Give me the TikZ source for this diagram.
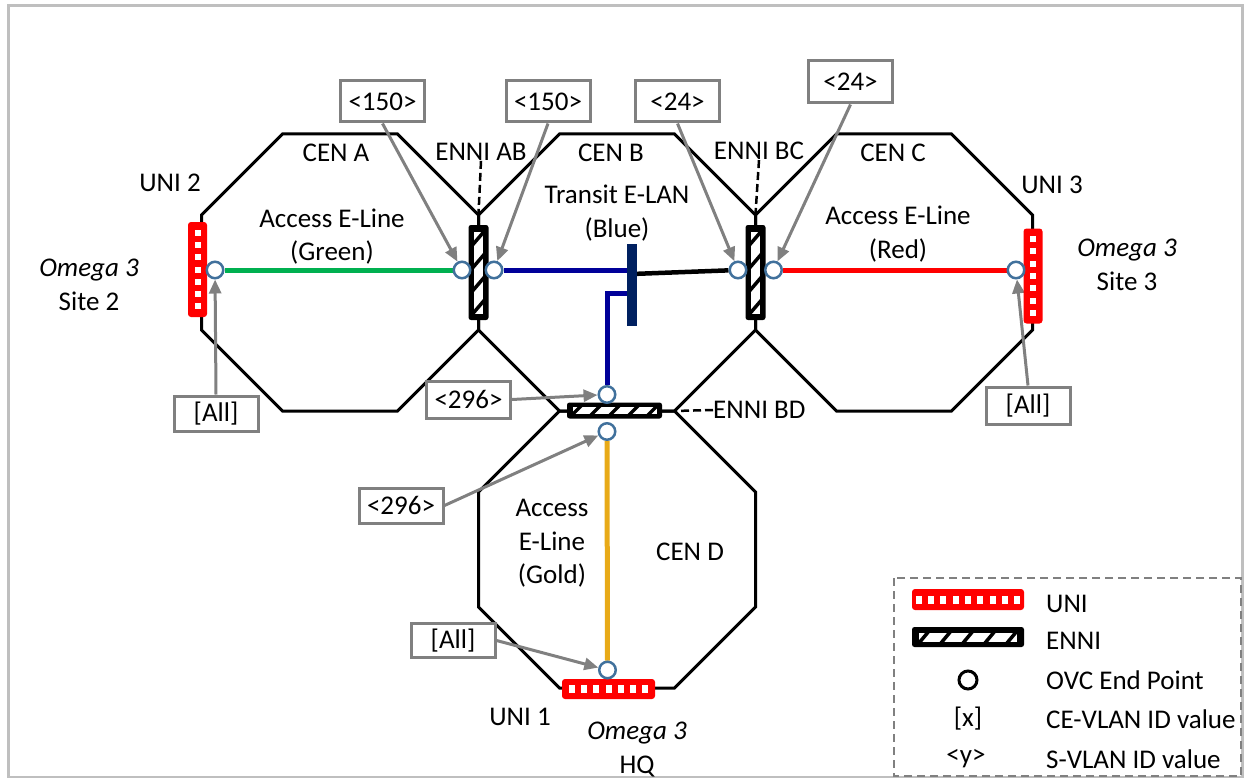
\documentclass[tikz,border=0pt]{standalone}
\usepackage{fontspec}
\setmainfont{Carlito}
\usetikzlibrary{arrows.meta,calc}
\pgfdeclarelayer{bg}
\pgfdeclarelayer{mid}
\pgfsetlayers{bg,mid,main}
\definecolor{unired}{RGB}{255,0,0}
\definecolor{evcgreen}{RGB}{0,176,80}
\definecolor{evcblue}{RGB}{0,0,153}
\definecolor{lannavy}{RGB}{0,32,96}
\definecolor{evcgold}{RGB}{232,170,24}
\definecolor{epblue}{RGB}{65,113,156}
\definecolor{tagray}{RGB}{128,128,128}
\definecolor{framegray}{RGB}{191,191,191}
\tikzset{
  octagon/.pic={\draw[line width=3pt, line join=miter] (-57.4,-138.5) -- (57.4,-138.5) -- (138.5,-57.4) -- (138.5,57.4) -- (57.4,138.5) -- (-57.4,138.5) -- (-138.5,57.4) -- (-138.5,-57.4) -- cycle;},
}
\begin{document}
\begin{tikzpicture}[x=1pt,y=-1pt,
  every node/.style={font=\fontsize{27}{33.5}\selectfont, inner sep=0pt, align=center},
  ep/.style={circle, draw=epblue, line width=2.5pt, fill=white, minimum size=16.5pt, inner sep=0pt},
  tag/.style={draw=tagray, line width=3pt, fill=white, minimum width=84pt, minimum height=37pt},
  tagarrow/.style={draw=tagray, line width=3pt, -{Triangle[length=14pt,width=12pt]}},
  evc/.style={line width=5pt},
  leader/.style={line width=2.5pt, dash pattern=on 8pt off 4pt},
  univ/.style={fill=unired, rounded corners=3pt, minimum width=19pt, minimum height=95pt,
    path picture={\foreach \k in {-3,...,3}{\fill[white, sharp corners] ($(path picture bounding box.center)+(-3,{\k*12.3-3})$) rectangle ++(6,6);}}},
  unih/.style={fill=unired, rounded corners=3pt, minimum width=93pt, minimum height=20pt,
    path picture={\foreach \k in {-3,...,3}{\fill[white, sharp corners] ($(path picture bounding box.center)+({\k*12.3-3},-4)$) rectangle ++(6,8);}}},
  unileg/.style={fill=unired, rounded corners=3pt, minimum width=112pt, minimum height=21pt,
    path picture={\foreach \k in {-4,...,4}{\fill[white, sharp corners] ($(path picture bounding box.center)+({\k*12.3-3},-4)$) rectangle ++(6,8);}}},
  enniv/.style={fill=black, rounded corners=2.5pt, minimum width=20pt, minimum height=95pt,
    path picture={\fill[white, sharp corners] ($(path picture bounding box.center)+(-4.5,-41)$) rectangle ($(path picture bounding box.center)+(4.5,41)$);
      \foreach \d in {-34.5,-11.5,11.5,34.5}{\draw[black, line width=3.5pt, sharp corners] ($(path picture bounding box.center)+(-6,{\d+7})$) -- ($(path picture bounding box.center)+(6,{\d-7})$);}}},
  ennih/.style={fill=black, rounded corners=2.5pt, minimum width=95pt, minimum height=16pt,
    path picture={\fill[white, sharp corners] ($(path picture bounding box.center)+(-42,-3.5)$) rectangle ($(path picture bounding box.center)+(42,3.5)$);
      \foreach \d in {-38,-19,0,19,38}{\draw[black, line width=3.5pt, sharp corners] ($(path picture bounding box.center)+({\d-5},5)$) -- ($(path picture bounding box.center)+({\d+5},-5)$);}}},
  ennileg/.style={fill=black, rounded corners=2.5pt, minimum width=112pt, minimum height=20pt,
    path picture={\fill[white, sharp corners] ($(path picture bounding box.center)+(-49,-4.5)$) rectangle ($(path picture bounding box.center)+(49,4.5)$);
      \foreach \d in {-44,-22,0,22,44}{\draw[black, line width=3.5pt, sharp corners] ($(path picture bounding box.center)+({\d-5},6)$) -- ($(path picture bounding box.center)+({\d+5},-6)$);}}},
]
\useasboundingbox (0,0) rectangle (1244,778);

% ---------- background: frame, octagons, legend box
\begin{pgfonlayer}{bg}
  \draw[framegray, line width=3pt] (8,6) rectangle (1242,777);
  \pic at (340,272.5) {octagon};
  \pic at (617,272.5) {octagon};
  \pic at (894,272.5) {octagon};
  \pic at (617,549.5) {octagon};
  \draw[tagray, line width=2pt, dash pattern=on 8pt off 5pt] (894,578) rectangle (1241,776);
\end{pgfonlayer}

% ---------- interfaces
\node[univ] (uni2) at (197.5,269.5) {};
\node[univ] (uni3) at (1033,276) {};
\node[unih] (uni1) at (608.5,689) {};
\node[enniv] (enniAB) at (478.5,272.5) {};
\node[enniv] (enniBC) at (755.5,272.5) {};
\node[ennih] (enniBD) at (614.5,410.5) {};
\node[fill=lannavy, minimum width=9.5pt, minimum height=82pt] (lan) at (632,285) {};

% ---------- OVC end points
\node[ep] (ep2) at (215,270) {};
\node[ep] (epABl) at (462,270) {};
\node[ep] (epABr) at (494,270) {};
\node[ep] (epBCl) at (738,270) {};
\node[ep] (epBCr) at (773.5,270) {};
\node[ep] (ep3) at (1016,270) {};
\node[ep] (epBDt) at (607,394.5) {};
\node[ep] (epBDb) at (607,431.5) {};
\node[ep] (epU1) at (607.5,670) {};

\coordinate (lanR) at (632,274);
\coordinate (lanL) at (632,293);
\coordinate (vAB) at (478.5,214);
\coordinate (vBC) at (755.5,214);
\coordinate (vBD) at (674,411);

% ---------- tags
\node[tag, minimum height=41pt] (t150a) at (382.5,101.5) {<150>};
\node[tag, minimum height=41pt] (t150b) at (548,101.5) {<150>};
\node[tag, minimum height=41pt] (t24a) at (677.5,101.5) {<24>};
\node[tag, minimum height=42pt] (t24b) at (850.5,82) {<24>};
\node[tag] (t296a) at (468.5,399.5) {<296>};
\node[tag, minimum height=35pt] (t296b) at (401,505.5) {<296>};
\node[tag, minimum height=35pt] (tAll2) at (216,413.5) {[All]};
\node[tag] (tAll3) at (1028,405.5) {[All]};
\node[tag, minimum height=34pt] (tAll1) at (453,640.5) {[All]};

% ---------- labels
\node (lCENA) at (336,153) {CEN A};
\node (lENNIAB) at (481,152) {ENNI AB};
\node (lCENB) at (611,153) {CEN B};
\node (lENNIBC) at (759,151) {ENNI BC};
\node (lCENC) at (893,153) {CEN C};
\node (lUNI2) at (170,183) {UNI 2};
\node (lUNI3) at (1052,185) {UNI 3};
\node (lGreen) at (332,236.5) {Access E-Line\\(Green)};
\node (lBlue) at (617,213) {Transit E-LAN\\(Blue)};
\node (lRed) at (898,234) {Access E-Line\\(Red)};
\node (lSite2) at (89,285) {\textit{Omega 3}\\Site 2};
\node (lSite3) at (1127,265) {\textit{Omega 3}\\Site 3};
\node (lGold) at (552,543.5) {Access\\E-Line\\(Gold)};
\node (lCEND) at (690,552) {CEN D};
\node (lUNI1) at (520,717) {UNI 1};
\node (lHQ) at (637,749.5) {\textit{Omega 3}\\HQ};
\node[anchor=west] (lENNIBD) at (713,410) {ENNI BD};

% ---------- legend
\node[unileg] (lgUNI) at (968,599.5) {};
\node[ennileg] (lgENNI) at (968,637) {};
\node[circle, draw=black, line width=3pt, minimum size=18pt] (lgEP) at (968,680) {};
\node (lgX) at (968,719) {[x]};
\node (lgY) at (966,759) {<y>};
\node[anchor=west] (lgtUNI) at (1046,604) {UNI};
\node[anchor=west] (lgtENNI) at (1046,641) {ENNI};
\node[anchor=west] (lgtEP) at (1046,680) {OVC End Point};
\node[anchor=west] (lgtX) at (1046,719) {CE-VLAN ID value};
\node[anchor=west] (lgtY) at (1046,759) {S-VLAN ID value};

% ---------- connectors
\begin{pgfonlayer}{mid}
  \draw[evc, evcgreen] (ep2) -- (epABl);
  \draw[evc, evcblue] (epABr) -- (epABr -| lan.center);
  \draw[evc, evcblue, line join=miter] (lanL) -| (epBDt);
  \draw[line width=4.5pt, black] (lanR) -- (epBCl);
  \draw[evc, unired] (epBCr) -- (ep3);
  \draw[evc, evcgold] (epBDb) -- (epU1);
  \draw[leader] (lENNIAB.south) -- (vAB);
  \draw[leader] (lENNIBC.south) -- (vBC);
  \draw[leader] (lENNIBD.west) -- (vBD);
  \draw[tagarrow] (t150a.south) -- (epABl);
  \draw[tagarrow] (t150b.south) -- (epABr);
  \draw[tagarrow] (t24a.south) -- (epBCl);
  \draw[tagarrow] (t24b.south) -- (epBCr);
  \draw[tagarrow] (t296a.east) -- (epBDt);
  \draw[tagarrow] (t296b.east) -- (epBDb);
  \draw[tagarrow] (tAll2.north) -- (ep2);
  \draw[tagarrow] (tAll3.north) -- (ep3);
  \draw[tagarrow] (tAll1.east) -- (epU1);
\end{pgfonlayer}
\end{tikzpicture}
\end{document}
